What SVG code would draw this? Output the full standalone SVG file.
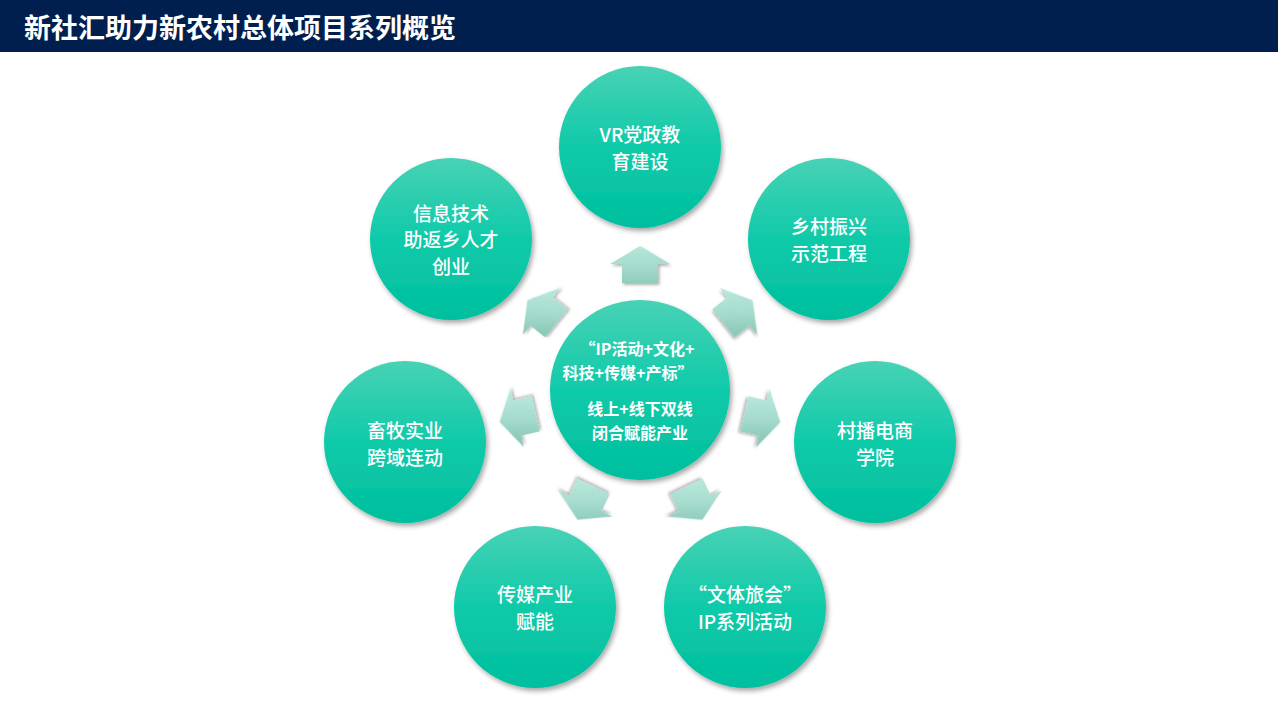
<svg xmlns="http://www.w3.org/2000/svg" xmlns:xlink="http://www.w3.org/1999/xlink" width="1280" height="720" viewBox="0 0 1280 720">
<style>
.ttl{font-family:"Noto Sans CJK SC","Liberation Sans",sans-serif;font-weight:bold;font-size:27px;fill:#ffffff}
.lbl{font-family:"Noto Sans CJK SC","Liberation Sans",sans-serif;font-weight:500;font-size:19px;fill:#ffffff;text-anchor:middle;dominant-baseline:central}
.ctr{font-family:"Noto Sans CJK SC","Liberation Sans",sans-serif;font-weight:bold;font-size:16px;fill:#ffffff;text-anchor:middle;dominant-baseline:central}
.node{fill:url(#cg);filter:url(#sh)}
.arr{filter:url(#sh2)}
</style>
<defs>
<linearGradient id="cg" x1="0" y1="0" x2="0" y2="1">
<stop offset="0" stop-color="#48d2b5"/>
<stop offset="0.5" stop-color="#0fcaa9"/>
<stop offset="1" stop-color="#00bf9e"/>
</linearGradient>
<linearGradient id="ag" gradientUnits="userSpaceOnUse" x1="0" y1="-20" x2="0" y2="20">
<stop offset="0" stop-color="#b6e6da"/>
<stop offset="0.5" stop-color="#a6dccf"/>
<stop offset="1" stop-color="#8dcab9"/>
</linearGradient>
<linearGradient id="a1" href="#ag" xlink:href="#ag" gradientTransform="rotate(-51.43)"/>
<linearGradient id="a2" href="#ag" xlink:href="#ag" gradientTransform="rotate(-102.86)"/>
<linearGradient id="a3" href="#ag" xlink:href="#ag" gradientTransform="rotate(-154.29)"/>
<linearGradient id="a4" href="#ag" xlink:href="#ag" gradientTransform="rotate(-205.71)"/>
<linearGradient id="a5" href="#ag" xlink:href="#ag" gradientTransform="rotate(-257.14)"/>
<linearGradient id="a6" href="#ag" xlink:href="#ag" gradientTransform="rotate(-308.57)"/>
<filter id="sh" x="-20%" y="-20%" width="150%" height="150%">
<feDropShadow dx="2" dy="3" stdDeviation="2.5" flood-color="#000" flood-opacity="0.35"/>
</filter>
<filter id="sh2" x="-30%" y="-30%" width="170%" height="170%">
<feDropShadow dx="1.5" dy="2" stdDeviation="1.5" flood-color="#000" flood-opacity="0.3"/>
</filter>
<path id="arrow" d="M0,-19 L30,-1 L18,-1 L18,18 L-18,18 L-18,-1 L-30,-1 Z"/>
</defs>

<rect width="1280" height="720" fill="#ffffff"/>
<g id="title">
<rect x="0" y="0" width="1278" height="52" fill="#001f4f"/>
<text class="ttl" x="24" y="38">新社汇助力新农村总体项目系列概览</text>
</g>

<g id="connectors">
<g class="arr" transform="translate(640,390) rotate(0) translate(0,-125)"><use href="#arrow" xlink:href="#arrow" fill="url(#ag)"/></g>
<g class="arr" transform="translate(640,390) rotate(51.43) translate(0,-125)"><use href="#arrow" xlink:href="#arrow" fill="url(#a1)"/></g>
<g class="arr" transform="translate(640,390) rotate(102.86) translate(0,-125)"><use href="#arrow" xlink:href="#arrow" fill="url(#a2)"/></g>
<g class="arr" transform="translate(640,390) rotate(154.29) translate(0,-125)"><use href="#arrow" xlink:href="#arrow" fill="url(#a3)"/></g>
<g class="arr" transform="translate(640,390) rotate(205.71) translate(0,-125)"><use href="#arrow" xlink:href="#arrow" fill="url(#a4)"/></g>
<g class="arr" transform="translate(640,390) rotate(257.14) translate(0,-125)"><use href="#arrow" xlink:href="#arrow" fill="url(#a5)"/></g>
<g class="arr" transform="translate(640,390) rotate(308.57) translate(0,-125)"><use href="#arrow" xlink:href="#arrow" fill="url(#a6)"/></g>
</g>

<g id="center">
<circle class="node" cx="640" cy="390" r="90"/>
<text class="ctr" x="637" y="348">“IP活动+文化+</text>
<text class="ctr" x="628" y="372">科技+传媒+产标”</text>
<text class="ctr" x="640" y="408">线上+线下双线</text>
<text class="ctr" x="640" y="432">闭合赋能产业</text>
</g>

<g id="n1">
<circle class="node" cx="640" cy="147" r="81"/>
<text class="lbl" x="640" y="133">VR党政教</text>
<text class="lbl" x="640" y="160">育建设</text>
</g>
<g id="n2">
<circle class="node" cx="829" cy="239" r="81"/>
<text class="lbl" x="829" y="225">乡村振兴</text>
<text class="lbl" x="829" y="252">示范工程</text>
</g>
<g id="n3">
<circle class="node" cx="875" cy="442" r="81"/>
<text class="lbl" x="875" y="429">村播电商</text>
<text class="lbl" x="875" y="456">学院</text>
</g>
<g id="n4">
<circle class="node" cx="745" cy="607" r="81"/>
<text class="lbl" x="745" y="593">“文体旅会”</text>
<text class="lbl" x="745" y="620">IP系列活动</text>
</g>
<g id="n5">
<circle class="node" cx="535" cy="607" r="81"/>
<text class="lbl" x="535" y="593">传媒产业</text>
<text class="lbl" x="535" y="620">赋能</text>
</g>
<g id="n6">
<circle class="node" cx="405" cy="442" r="81"/>
<text class="lbl" x="405" y="429">畜牧实业</text>
<text class="lbl" x="405" y="456">跨域连动</text>
</g>
<g id="n7">
<circle class="node" cx="451" cy="239" r="81"/>
<text class="lbl" x="451" y="212">信息技术</text>
<text class="lbl" x="451" y="238.5">助返乡人才</text>
<text class="lbl" x="451" y="265">创业</text>
</g>
</svg>
